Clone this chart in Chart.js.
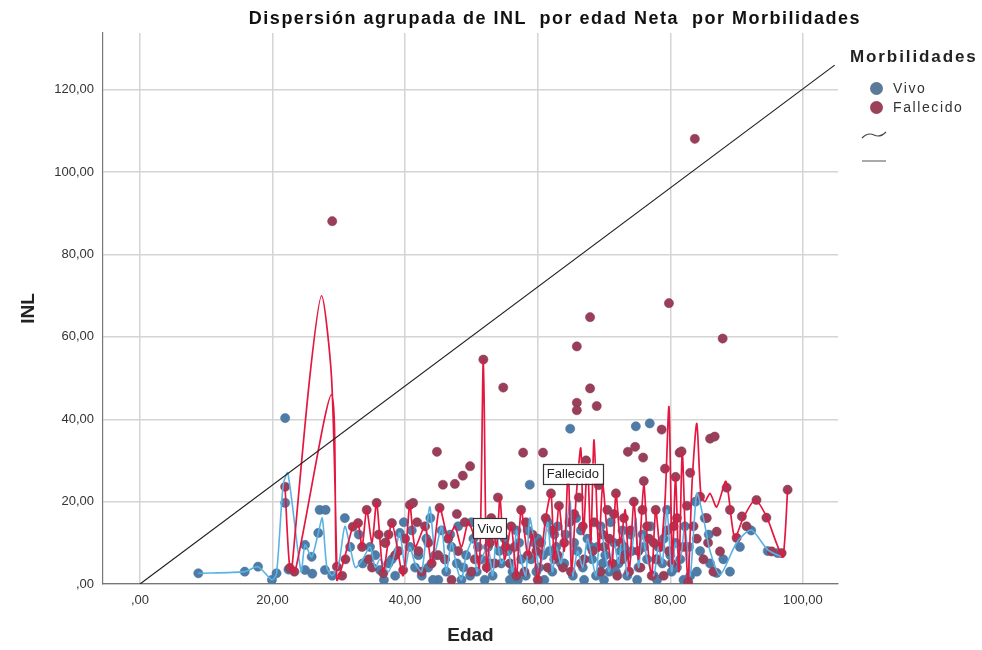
<!DOCTYPE html>
<html>
<head>
<meta charset="utf-8">
<script src="https://cdn.jsdelivr.net/npm/chart.js@4"></script>
<style>
  html, body { margin:0; padding:0; background:#fff; }
  #wrap { position:relative; width:982px; height:650px; font-family:"Liberation Sans", Arial, sans-serif; }
  canvas { position:absolute; left:0; top:0; }
  #title { position:absolute; left:555px; top:8px; transform:translateX(-50%); white-space:pre; font-weight:bold; font-size:18px; letter-spacing:1.5px; color:#111; }
  #legend { position:absolute; left:850px; top:47px; color:#222; }
  #legend .head { font-weight:bold; font-size:17px; letter-spacing:1.9px; margin-bottom:12px; }
  #legend .item { position:relative; height:19px; font-size:14px; letter-spacing:1.6px; line-height:19px; padding-left:43px; color:#333; }
  #legend .dot { position:absolute; left:20px; top:3px; width:13px; height:13px; border-radius:50%; }
  #legend svg { display:block; }
</style>
</head>
<body>
<div id="wrap">
  <canvas id="c" width="982" height="650"></canvas>
  <div id="title">Dispersión agrupada de INL  por edad Neta  por Morbilidades</div>
  <div id="legend">
    <div class="head">Morbilidades</div>
    <div class="item"><span class="dot" style="background:#5a7a98"></span>Vivo</div>
    <div class="item"><span class="dot" style="background:#9a4358"></span>Fallecido</div>
    <svg width="60" height="44" style="margin-top:4px">
      <path d="M12 17 Q18 11 24 14 T36 11" stroke="#444" stroke-width="1.2" fill="none"/>
      <line x1="12" y1="40" x2="36" y2="40" stroke="#aaa" stroke-width="2"/>
    </svg>
  </div>
</div>
<script>
// ---------- data ----------
const categories = ['Vivo', 'Fallecido'];
const xTicks = [0, 20, 40, 60, 80, 100];
const yTicks = [0, 20, 40, 60, 80, 100, 120];

const vivoX = [8.8,15.8,17.8,19.9,20.6,21.9,21.9,22.4,24.9,24.9,25.9,26.9,27.1,28.0,27.9,26.0,29.0,30.9,31.7,33.6,34.7,36.2,35.5,37.5,38.5,39.2,40.7,41.5,42.5,43.2,43.8,44.5,45.5,46.2,47.0,47.8,48.5,49.2,50.3,50.8,51.5,52.5,53.2,53.8,54.5,55.5,56.2,56.8,57.5,58.2,58.8,59.5,60.2,60.8,61.5,62.2,62.8,63.5,64.2,64.9,65.3,66.0,66.8,67.5,68.2,68.8,69.5,70.2,70.8,71.5,72.2,72.8,73.5,74.2,74.8,75.2,75.8,76.5,76.9,77.5,78.2,78.8,79.5,80.2,80.8,81.5,82.2,83.0,83.8,84.5,85.2,86.0,87.0,88.0,89.0,90.5,92.2,94.7,96.2,33.0,37.0,42.0,45.0,48.0,52.0,55.0,57.0,59.0,61.0,63.0,65.8,67.0,69.0,71.0,73.0,75.0,77.0,78.0,80.0,82.0,70.0,60.0,50.0,46.0,
  36.8,38.0,39.8,41.0,43.5,44.2,46.8,48.8,49.8,51.0,52.8,54.2,55.8,57.2,58.5,59.8,61.8,62.5,64.0,65.5,66.5,68.0,69.8,71.8,72.5,74.0,76.0,77.8,79.0,81.0,82.8,84.0,85.8];
const vivoY = [2.6,3.0,4.2,1.0,2.6,40.3,19.7,3.5,9.5,3.4,6.6,12.4,18.0,18.0,3.4,2.5,2.0,16.0,9.0,5.0,9.0,3.4,7.0,5.0,2.0,12.4,9.0,4.0,2.0,11.0,16.0,7.0,13.0,3.0,9.0,5.0,1.0,7.0,11.0,3.0,6.0,9.0,2.0,12.0,5.0,8.0,3.0,13.0,6.0,2.0,24.1,10.0,4.0,7.0,15.0,3.0,9.0,5.0,12.0,37.7,2.0,8.0,4.0,11.0,6.0,2.0,14.0,7.0,3.0,10.0,5.0,13.0,2.0,8.0,38.3,4.0,12.0,6.0,39.0,2.0,9.0,5.0,18.0,3.0,10.0,6.0,14.0,2.0,20.0,8.0,16.0,5.0,2.7,6.0,3.0,9.0,13.0,8.0,7.5,12.0,10.0,7.0,1.0,14.0,1.0,11.0,1.0,6.0,1.0,14.0,16.0,1.0,9.0,15.0,9.0,1.0,14.0,1.0,7.0,1.0,1.0,11.0,15.0,6.0,
  1.0,6.0,15.0,13.0,4.0,1.0,12.0,4.0,2.0,9.0,5.0,8.0,1.0,10.0,13.0,3.0,8.0,12.0,5.0,10.0,13.0,9.0,5.0,3.0,8.0,12.0,9.0,6.0,11.0,4.0,9.0,3.0,12.0];

const fallecidoX = [21.9,22.6,23.3,29.0,29.7,30.5,32.1,32.9,34.2,35.7,36.7,38.0,37.0,39.7,40.7,41.2,42.0,43.0,44.0,44.8,45.2,45.7,46.5,47.5,48.7,49.8,48.0,49.0,50.0,50.8,51.8,52.3,53.0,54.0,54.8,55.2,56.0,56.8,57.8,57.5,58.5,59.2,60.0,60.8,61.2,62.0,62.5,63.2,64.0,64.5,65.0,65.9,65.9,65.9,66.2,66.8,67.3,67.9,67.9,68.3,68.9,69.2,69.8,70.5,71.2,71.8,72.5,73.0,73.6,74.7,75.9,73.8,74.5,75.2,76.0,76.5,77.2,77.8,78.5,78.7,79.2,79.8,79.5,80.2,80.8,81.4,81.7,81.0,82.0,82.7,83.0,83.7,83.5,84.5,85.0,85.7,86.0,86.7,87.0,87.5,87.9,88.5,89.0,90.0,90.8,91.5,93.0,94.5,95.3,96.8,97.7,31.0,33.5,35.0,36.0,38.5,40.0,42.5,46.0,47.0,52.8,55.8,58.0,59.8,61.5,63.0,64.8,67.0,69.5,70.0,72.0,73.2,75.5,76.8,78.0,79.0,
  34.5,37.5,39.0,41.8,43.5,45.0,47.8,50.5,53.5,54.5,56.5,58.2,60.5,62.2,63.8,65.5,66.5,68.5,70.8,71.5,72.8,74.0,75.8,77.5,79.8,80.5,82.5,84.0,85.5,86.5];
const fallecidoY = [23.6,3.9,3.0,88.1,4.2,2.0,13.9,14.8,18.0,19.7,2.6,14.8,10.0,3.4,19.2,19.7,8.0,14.0,5.0,32.1,18.5,24.1,11.0,24.3,26.3,28.6,8.0,15.0,3.0,12.0,54.5,4.0,16.0,21.0,47.7,9.0,14.0,2.0,31.9,18.0,7.0,12.0,1.0,31.9,16.0,22.0,6.0,19.0,10.0,26.0,3.0,57.7,44.0,42.2,21.0,14.0,30.0,47.5,64.8,8.0,43.2,24.0,12.0,18.0,5.0,22.0,10.0,16.0,32.1,33.3,30.7,3.0,20.0,8.0,25.0,14.0,2.0,18.0,9.0,37.5,28.0,68.2,13.0,5.0,26.0,31.9,32.2,16.0,9.0,0.5,27.0,108.1,14.0,21.2,6.0,10.0,35.3,35.8,12.7,7.9,59.6,23.4,18.0,11.2,16.4,14.0,20.4,16.1,7.9,7.5,22.9,6.0,9.0,4.0,12.0,7.0,11.0,3.0,6.0,1.0,10.0,5.0,3.0,8.0,4.0,7.0,15.0,6.0,3.0,9.0,2.0,7.0,4.0,11.0,6.0,2.0,
  6.0,12.0,8.0,15.0,10.0,7.0,17.0,6.0,5.0,12.0,9.0,15.0,10.0,13.0,4.0,17.0,5.0,15.0,11.0,17.0,6.0,13.0,18.0,10.0,8.0,14.0,19.0,11.0,16.0,3.0];

// fit (interpolation) lines; null breaks the line
const vivoLineX = [8.8,15.8,17.8,19.9,20.6,21.6,22.3,24.3,24.9,25.9,26.9,27.5,28.2,29.0,30.0,30.9,31.7,32.5,33.6,34.7,35.5,36.2,37.5,38.5,39.2,40.0,40.7,41.5,42.5,43.7,44.5,45.5,46.2,47.0,47.8,48.5,49.2,50.3,50.8,51.5,52.5,53.2,53.8,54.5,55.5,56.2,56.8,57.5,58.2,58.8,59.5,60.2,60.8,61.5,62.2,62.8,63.5,64.2,64.9,65.3,66.0,66.8,67.5,68.2,68.8,69.5,70.2,70.8,71.5,72.2,72.8,73.5,74.2,74.8,75.2,75.8,76.5,77.5,78.2,78.8,79.5,80.2,80.8,81.5,82.2,83.0,84.0,85.0,86.0,87.5,90.0,92.2,94.7,96.8];
const vivoLineY = [2.6,3.0,4.2,1.0,2.6,24.0,27.0,3.0,9.5,6.6,12.4,16.0,4.0,2.0,5.0,14.0,9.0,4.0,6.0,9.0,4.0,6.0,3.0,8.0,12.4,4.0,9.0,5.0,3.0,18.7,8.0,14.0,3.0,10.0,4.0,1.0,7.0,11.0,3.0,6.0,9.0,2.0,12.0,5.0,8.0,3.0,13.0,6.0,2.0,16.0,10.0,4.0,7.0,15.0,3.0,9.0,5.0,12.0,20.0,2.0,8.0,4.0,11.0,6.0,2.0,14.0,7.0,3.0,10.0,5.0,13.0,2.0,8.0,16.0,4.0,12.0,6.0,2.0,9.0,5.0,18.0,3.0,10.0,6.0,14.0,2.0,22.0,16.0,8.0,2.2,10.0,13.1,8.3,6.6];

const fallecidoLineX = [21.9,22.6,23.4,28.9,29.7,30.8,32.1,32.9,33.5,34.2,35.0,35.7,36.7,38.0,39.7,40.7,41.5,43.0,44.0,45.2,46.5,47.5,48.5,49.5,50.3,51.2,51.8,52.3,53.0,53.8,54.3,55.0,56.0,56.8,57.5,58.5,59.2,60.0,61.2,62.0,62.5,63.2,64.0,64.6,65.1,65.8,66.5,66.9,67.5,68.0,68.5,69.2,69.8,70.5,71.2,71.8,72.5,73.2,73.8,74.5,75.2,76.0,76.6,77.2,77.8,78.5,79.2,79.8,80.3,80.8,81.3,81.8,82.3,82.7,83.3,84.0,84.6,85.2,86.0,87.0,88.4,89.7,91.0,92.8,94.5,96.0,97.0,97.7,null,22.9,25.6,27.4,28.9,29.7];
const fallecidoLineY = [23.0,4.0,3.0,46.0,1.0,6.0,13.9,14.8,9.0,18.0,10.0,19.7,3.0,14.8,2.0,19.2,9.0,14.0,5.0,18.5,11.0,14.0,9.0,15.0,12.0,4.0,54.5,3.0,16.0,9.0,21.0,6.0,14.0,2.0,18.0,7.0,12.0,1.0,16.0,22.0,6.0,19.0,8.0,28.0,3.0,21.0,33.0,12.0,30.0,10.0,35.0,8.0,24.0,12.0,4.0,22.0,10.0,18.0,3.0,20.0,6.0,24.0,9.0,2.0,18.0,8.0,20.0,43.0,5.0,26.0,3.0,32.0,10.0,1.0,25.0,39.0,22.0,20.0,22.0,18.7,24.9,11.2,16.0,20.4,16.4,10.0,6.6,22.9,null,3.4,50.0,70.0,50.0,4.0];

const refLineX = [0, 104.8];
const refLineY = [0, 126.0];

const labelText = ['Vivo', 'Fallecido'];
const labelX = [52.8, 65.3];
const labelY = [13.6, 26.8];

// ---------- helpers ----------
const pts = (xs, ys) => xs.map((x, i) => ({ x: x === null ? NaN : x, y: ys[i] }));
const fmt = v => (v === 0 ? ',00' : v.toFixed(2).replace('.', ','));
const FONT = '"Liberation Sans", Arial, sans-serif';

const labelPlugin = {
  id: 'lineLabels',
  afterDatasetsDraw(chart) {
    const { ctx, scales } = chart;
    ctx.save();
    ctx.font = '13px ' + FONT;
    ctx.textAlign = 'center';
    ctx.textBaseline = 'middle';
    labelText.forEach((t, i) => {
      const px = scales.x.getPixelForValue(labelX[i]);
      const py = scales.y.getPixelForValue(labelY[i]);
      const w = ctx.measureText(t).width + 8;
      const h = 20;
      ctx.fillStyle = '#fff';
      ctx.fillRect(px - w / 2, py - h / 2, w, h);
      ctx.strokeStyle = '#333';
      ctx.lineWidth = 1.2;
      ctx.strokeRect(Math.round(px - w / 2) + 0.5, Math.round(py - h / 2) + 0.5, Math.round(w), h);
      ctx.fillStyle = '#222';
      ctx.fillText(t, px, py + 1);
    });
    ctx.restore();
  }
};

new Chart(document.getElementById('c'), {
  type: 'scatter',
  data: {
    datasets: [
      { label: 'ref', data: pts(refLineX, refLineY), showLine: true, borderColor: '#222', borderWidth: 1.2,
        pointRadius: 0, order: 0 },
      { label: categories[1] + ' línea', data: pts(fallecidoLineX, fallecidoLineY), showLine: true, spanGaps: false,
        borderColor: '#e3173f', borderWidth: 1.7, tension: 0.25, pointRadius: 0, order: 1 },
      { label: categories[0] + ' línea', data: pts(vivoLineX, vivoLineY), showLine: true, spanGaps: false,
        borderColor: '#5ab2e4', borderWidth: 1.6, tension: 0.25, pointRadius: 0, order: 2 },
      { label: categories[1], data: pts(fallecidoX, fallecidoY), backgroundColor: '#993f5a', borderColor: '#8a3550',
        borderWidth: 0.5, pointRadius: 4.6, order: 3 },
      { label: categories[0], data: pts(vivoX, vivoY), backgroundColor: '#4f7ca6', borderColor: '#456f96',
        borderWidth: 0.5, pointRadius: 4.6, order: 4 }
    ]
  },
  options: {
    responsive: false,
    animation: false,
    events: [],
    layout: { padding: { top: 33, right: 144, left: 0, bottom: 0 } },
    plugins: { legend: { display: false }, tooltip: { enabled: false }, title: { display: false } },
    scales: {
      x: {
        type: 'linear', min: -5.58, max: 105.3,
        afterFit: s => { s.height = 66; },
        afterBuildTicks: s => { s.ticks = xTicks.map(v => ({ value: v })); },
        grid: { color: '#d4d4d4', lineWidth: 1.5, drawTicks: false },
        border: { color: '#777', width: 1.2 },
        ticks: { padding: 9, color: '#333', font: { family: FONT, size: 13 }, callback: v => fmt(v) },
        title: { display: true, text: 'Edad', color: '#222', padding: { top: 0, bottom: 3 },
          font: { family: FONT, size: 19, weight: 'bold' } }
      },
      y: {
        type: 'linear', min: 0, max: 133.8,
        afterFit: s => { s.width = 103; },
        afterBuildTicks: s => { s.ticks = yTicks.map(v => ({ value: v })); },
        grid: { color: '#d4d4d4', lineWidth: 1.5, drawTicks: false },
        border: { color: '#777', width: 1.2 },
        ticks: { padding: 9, color: '#333', font: { family: FONT, size: 13 }, callback: v => fmt(v) },
        title: { display: true, text: 'INL', color: '#222', padding: { top: 17, bottom: 0 },
          font: { family: FONT, size: 19, weight: 'bold' } }
      }
    }
  },
  plugins: [labelPlugin]
});
</script>
</body>
</html>
